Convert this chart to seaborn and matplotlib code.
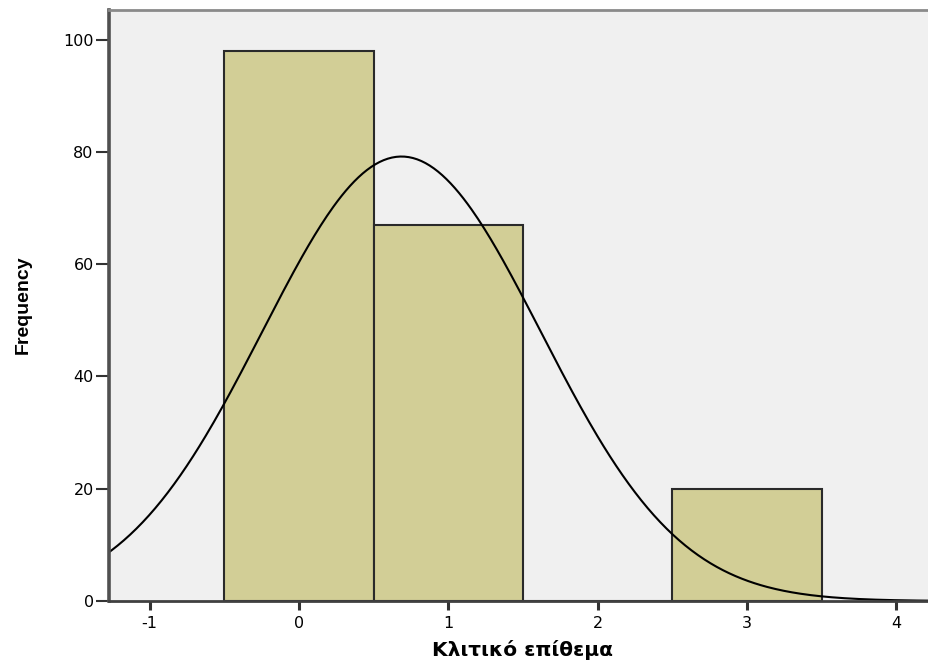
import numpy as np
import pandas as pd
import matplotlib
matplotlib.use("Agg")
import matplotlib.pyplot as plt
import seaborn as sns

# Data
categories = [0, 1, 2, 3]
counts = [98, 67, 0, 20]
x_ticks = [-1, 0, 1, 2, 3, 4]
y_ticks = [0, 20, 40, 60, 80, 100]

sns.set_theme(style="white")
plt.rcParams['font.family'] = ['DejaVu Sans']
plt.rcParams['text.color'] = 'black'
plt.rcParams['axes.labelcolor'] = 'black'

df = pd.DataFrame({"value": categories, "count": counts})

fig = plt.figure(figsize=(9.29, 6.66), dpi=100)
ax = fig.add_axes([0.1173, 0.0976, 0.8827, 0.8874])
ax.set_facecolor("#F0F0F0")

sns.histplot(data=df, x="value", weights="count", discrete=True, ax=ax,
             color="#D2CE96", alpha=1.0, edgecolor="#2a2a2a", linewidth=1.5)

# Fitted normal curve (from the data's mean and sd)
vals = np.repeat(categories, counts)
n = len(vals)
mu = vals.mean()
sd = vals.std(ddof=1)
xs = np.linspace(-1.3, 4.3, 400)
ys = n * 1.0 / (sd * np.sqrt(2 * np.pi)) * np.exp(-0.5 * ((xs - mu) / sd) ** 2)
sns.lineplot(x=xs, y=ys, ax=ax, color="black", linewidth=1.5)

ax.set_xlim(-1.273, 4.22)
ax.set_ylim(0, 105.3)
ax.set_xticks(x_ticks)
ax.set_yticks(y_ticks)
ax.set_xticklabels([str(t) for t in x_ticks])
ax.set_yticklabels([str(t) for t in y_ticks])
ax.tick_params(axis="x", direction="out", length=6.5, width=2.2, color="#333333",
               labelsize=11.5, labelcolor="black", pad=4, bottom=True)
ax.tick_params(axis="y", direction="out", length=9.5, width=1.5, color="#333333",
               labelsize=11.5, labelcolor="black", pad=1.5, left=True)

ax.spines["left"].set_visible(True)
ax.spines["left"].set_color("#505050")
ax.spines["left"].set_linewidth(2.6)
ax.spines["bottom"].set_visible(True)
ax.spines["bottom"].set_color("#404040")
ax.spines["bottom"].set_linewidth(2.0)
ax.spines["top"].set_visible(True)
ax.spines["top"].set_color("#8a8a8a")
ax.spines["top"].set_linewidth(2.0)
ax.spines["right"].set_visible(False)

ax.set_xlabel("Κλιτικό επίθεμα", fontsize=14.5, fontweight="bold",
              family=["DejaVu Sans"])
ax.set_ylabel("Frequency", fontsize=14, fontweight="bold",
              family=["Liberation Sans Narrow", "Liberation Sans", "DejaVu Sans"])
ax.xaxis.set_label_coords(0.5 + (523 - 519) / 820, -0.066)
ax.yaxis.set_label_coords(-0.094, 0.5 + (305.5 - 305) / 591)

fig.savefig("out.png", dpi=100)
